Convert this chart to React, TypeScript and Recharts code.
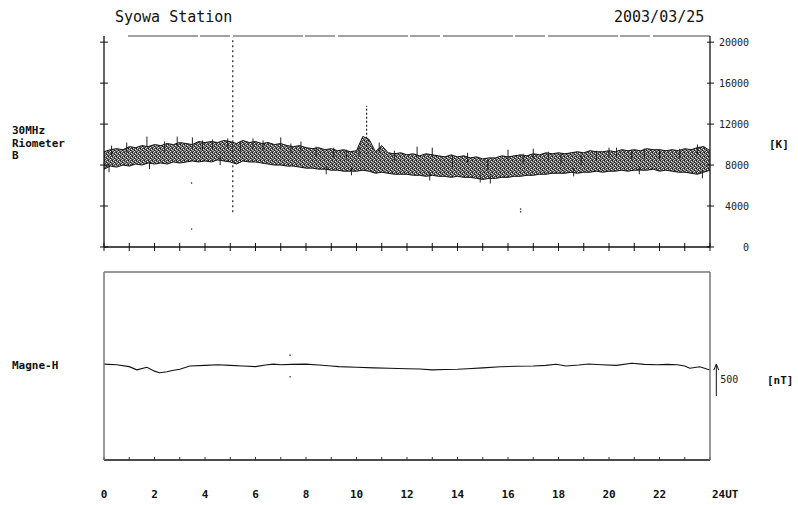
import React from "react";
import {
  ComposedChart,
  Area,
  Line,
  Scatter,
  XAxis,
  YAxis,
  ReferenceLine,
} from "recharts";

// riometer envelope, one sample every 15 min from 00 to 24 UT (K)
const rioHigh = [
  9300, 9500, 9600, 9500, 9800, 9700, 9900, 9800,
  10000, 9900, 10100, 10000, 10200, 10100, 10000, 10300,
  10200, 10300, 10200, 10400, 10300, 10100, 10400, 10200,
  10300, 10100, 10200, 10000, 10100, 9900, 9800, 9900,
  9700, 9600, 9700, 9500, 9600, 9400, 9500, 9300,
  9400, 10800, 10500, 9300, 9900, 9200, 9100, 9200,
  9000, 9100, 8900, 9100, 9000, 8900, 8800, 9000,
  8800, 8900, 8700, 8800, 8600, 8700, 8700, 8900,
  8800, 8900, 9000, 8900, 9100, 9000, 9200, 9100,
  9200, 9100, 9200, 9300, 9200, 9400, 9300, 9300,
  9400, 9300, 9500, 9400, 9500, 9400, 9600, 9500,
  9500, 9400, 9500, 9400, 9600, 9500, 9700, 9800,
  9400,
];
const rioLow = [
  7600, 7900, 7800, 8000, 7900, 8100, 8000, 8200,
  8100, 8200, 8100, 8300, 8200, 8300, 8400, 8300,
  8400, 8300, 8500, 8400, 8300, 8100, 8400, 8300,
  8300, 8200, 8100, 8000, 8000, 7900, 7900, 7800,
  7700, 7700, 7600, 7600, 7500, 7500, 7400, 7400,
  7400, 7500, 7400, 7200, 7300, 7200, 7100, 7100,
  7100, 7000, 7000, 6900, 7000, 6900, 6900, 6800,
  6900, 6800, 6800, 6700, 6600, 6700, 6700, 6800,
  6800, 6900, 6900, 7000, 7000, 7100, 7100, 7200,
  7200, 7200, 7300, 7200, 7300, 7300, 7400, 7300,
  7400, 7400, 7500, 7400, 7500, 7500, 7500, 7600,
  7400, 7500, 7400, 7300, 7300, 7200, 7100, 7300,
  7500,
];

// single noisy samples poking out of the band (K)
const rioPeaks = [
  { t: 0.3, v: 9900 }, { t: 0.9, v: 10200 }, { t: 1.7, v: 10780 }, { t: 2.4, v: 10300 },
  { t: 2.9, v: 10780 }, { t: 3.5, v: 10700 }, { t: 3.9, v: 10400 }, { t: 4.3, v: 10500 },
  { t: 4.9, v: 10600 }, { t: 5.4, v: 10300 }, { t: 5.9, v: 10600 }, { t: 6.3, v: 10400 },
  { t: 7.0, v: 10700 }, { t: 7.4, v: 10100 }, { t: 7.8, v: 10300 }, { t: 8.4, v: 9800 },
  { t: 9.1, v: 9700 }, { t: 9.6, v: 9500 }, { t: 10.1, v: 9800 }, { t: 10.9, v: 10200 },
  { t: 11.5, v: 9400 }, { t: 12.4, v: 9800 }, { t: 13.0, v: 9700 }, { t: 13.8, v: 8800 },
  { t: 14.4, v: 9200 }, { t: 15.2, v: 8500 }, { t: 16.0, v: 9500 }, { t: 16.6, v: 9100 },
  { t: 17.0, v: 9600 }, { t: 17.6, v: 9300 }, { t: 18.1, v: 9100 }, { t: 18.9, v: 9000 },
  { t: 19.5, v: 9400 }, { t: 20.0, v: 9700 }, { t: 20.3, v: 9700 }, { t: 20.9, v: 9500 },
  { t: 21.4, v: 9600 }, { t: 22.0, v: 9500 }, { t: 22.8, v: 9600 }, { t: 23.5, v: 10000 },
];
const rioDips = [
  { t: 0.2, v: 7300 }, { t: 1.8, v: 7600 }, { t: 4.6, v: 8000 }, { t: 8.8, v: 7100 },
  { t: 9.8, v: 7000 }, { t: 12.9, v: 6500 }, { t: 14.9, v: 6300 }, { t: 15.3, v: 6200 },
  { t: 18.6, v: 6900 }, { t: 21.2, v: 7100 }, { t: 23.7, v: 6700 },
];

// short bursts and stray samples
const spike1 = [
  { t: 5.1, v: 3400 },
  { t: 5.1, v: 20500 },
];
const spike2 = [
  { t: 10.4, v: 9000 },
  { t: 10.4, v: 13800 },
];
const rioDots = [
  { t: 3.47, v: 6240 },
  { t: 3.47, v: 1760 },
  { t: 16.5, v: 3430 },
  { t: 16.5, v: 3700 },
];

// Magne-H, relative nT
const magTimes = [
  0, 0.5, 1, 1.3, 1.7, 2, 2.2, 2.5, 2.7, 3, 3.4, 4, 4.5, 5, 5.5, 6, 6.4, 6.7,
  7, 7.4, 8, 8.5, 9, 9.3, 10, 10.7, 11.3, 12, 12.5, 13, 13.5, 14, 14.4, 15,
  15.7, 16.3, 17, 17.5, 17.9, 18.3, 18.8, 19.2, 19.7, 20.3, 20.9, 21.4, 21.9,
  22.3, 22.7, 23, 23.2, 23.6, 23.9, 24,
];
const magVals = [
  30, 20, -10, -60, -20, -80, -105, -90, -70, -50, 0, 10, 20, 10, 0, -10, 15,
  30, 20, 25, 30, 15, 0, -10, -20, -30, -35, -42, -48, -60, -55, -50, -42, -30,
  -11, -5, 0, 10, 27, 0, 15, 31, 20, 10, 42, 25, 20, 25, 20, 0, -35, -11, -52,
  -60,
];
const magDots = [
  { t: 7.37, v: 170 },
  { t: 7.37, v: -170 },
];

const hourTicks = [
  0, 1, 2, 3, 4, 5, 6, 7, 8, 9, 10, 11, 12, 13, 14, 15, 16, 17, 18, 19, 20, 21,
  22, 23, 24,
];
const labelTicks = [0, 2, 4, 6, 8, 10, 12, 14, 16, 18, 20, 22, 24];
const kTicks = [0, 4000, 8000, 12000, 16000, 20000];

const FONT = "'DejaVu Sans Mono', monospace";
const INK = "#111";
const K_MAX = 20600;
const NT = 1470;

const rioData = rioHigh.map((h, i) => ({ t: i * 0.25, band: [rioLow[i], h] }));
const magData = magTimes.map((t, i) => ({ t, v: magVals[i] }));

const noTick = () => <g />;

const KTick = (p: any) => (
  <text x={749} y={p.y + 4} textAnchor="end" fontFamily={FONT} fontSize={10} fill="#222">
    {p.payload.value}
  </text>
);

const HourTick = (p: any) => {
  const last = p.payload.value === 24;
  return (
    <text
      x={last ? p.x + 2 : p.x}
      y={498}
      textAnchor={last ? "start" : "middle"}
      fontFamily={FONT}
      fontSize={11}
      fontWeight="bold"
      fill={INK}
    >
      {last ? "24UT" : p.payload.value}
    </text>
  );
};

const Dot = (p: any) => <circle cx={p.cx} cy={p.cy} r={0.8} fill="#333" />;
const PeakTick = (p: any) => <line x1={p.cx} y1={p.cy} x2={p.cx} y2={p.cy + 10} stroke="#222" strokeWidth={1} />;
const DipTick = (p: any) => <line x1={p.cx} y1={p.cy} x2={p.cx} y2={p.cy - 8} stroke="#222" strokeWidth={1} />;

const ScaleArrow = (p: any) => {
  const top = Math.min(p.y1, p.y2);
  const bot = Math.max(p.y1, p.y2);
  return (
    <g>
      <line x1={p.x1} y1={top} x2={p.x1} y2={bot} stroke={INK} strokeWidth={1} />
      <path d={`M${p.x1 - 2.5},${top + 6} L${p.x1},${top} L${p.x1 + 2.5},${top + 6}`} fill="none" stroke={INK} />
      <text x={p.x1 + 4} y={(top + bot) / 2 + 3} fontFamily={FONT} fontSize={10} fill="#222">
        500
      </text>
    </g>
  );
};

function RiometerPanel() {
  return (
    <ComposedChart width={798} height={505} data={rioData} margin={{ top: 36, right: 0, bottom: 0, left: 0 }}>
      <defs>
        <pattern id="speck" width="4" height="4" patternUnits="userSpaceOnUse">
          <rect width="4" height="4" fill="#555" />
          <rect x="0" y="0" width="1" height="1" fill="#111" />
          <rect x="2" y="2" width="1" height="1" fill="#111" />
          <rect x="1" y="0" width="1" height="1" fill="#ccc" />
          <rect x="3" y="1" width="1" height="1" fill="#f2f2f2" />
          <rect x="0" y="2" width="1" height="1" fill="#aaa" />
          <rect x="2" y="3" width="1" height="1" fill="#e6e6e6" />
          <rect x="1" y="2" width="1" height="1" fill="#999" />
        </pattern>
      </defs>
      <XAxis type="number" dataKey="t" domain={[0, 24]} ticks={hourTicks} height={258} tick={noTick} tickSize={4} tickLine={{ stroke: INK }} axisLine={{ stroke: INK, strokeWidth: 1.3 }} allowDataOverflow />
      <XAxis xAxisId="in" type="number" dataKey="t" domain={[0, 24]} ticks={hourTicks} mirror tick={noTick} tickSize={4} tickLine={{ stroke: INK }} axisLine={false} allowDataOverflow />
      <YAxis type="number" domain={[0, K_MAX]} ticks={kTicks} width={104} tick={noTick} tickSize={4} tickLine={{ stroke: INK }} axisLine={{ stroke: INK, strokeWidth: 1.3 }} allowDataOverflow />
      <YAxis yAxisId="lin" type="number" domain={[0, K_MAX]} ticks={kTicks} mirror tick={noTick} tickSize={4} tickLine={{ stroke: INK }} axisLine={false} allowDataOverflow />
      <YAxis yAxisId="r" orientation="right" type="number" domain={[0, K_MAX]} ticks={kTicks} width={88} tick={KTick} tickSize={4} tickLine={{ stroke: INK }} axisLine={{ stroke: INK, strokeWidth: 1.3 }} allowDataOverflow />
      <YAxis yAxisId="rin" orientation="right" type="number" domain={[0, K_MAX]} ticks={kTicks} mirror tick={noTick} tickSize={3} tickLine={{ stroke: INK }} axisLine={false} allowDataOverflow />
      <ReferenceLine segment={[{ x: 0.95, y: K_MAX }, { x: 24, y: K_MAX }]} stroke="#444" strokeWidth={1.2} strokeDasharray="70 2 30 3" />
      <Area type="linear" dataKey="band" stroke={INK} strokeWidth={1} fill="url(#speck)" fillOpacity={1} isAnimationActive={false} dot={false} activeDot={false} />
      <Scatter data={rioPeaks} dataKey="v" shape={PeakTick} isAnimationActive={false} />
      <Scatter data={rioDips} dataKey="v" shape={DipTick} isAnimationActive={false} />
      <Line data={spike1} type="linear" dataKey="v" stroke="#222" strokeWidth={1.2} strokeDasharray="2 3" dot={false} activeDot={false} isAnimationActive={false} />
      <Line data={spike2} type="linear" dataKey="v" stroke="#222" strokeWidth={1.2} strokeDasharray="2 2" dot={false} activeDot={false} isAnimationActive={false} />
      <Scatter data={rioDots} dataKey="v" shape={Dot} isAnimationActive={false} />
    </ComposedChart>
  );
}

function MagnePanel() {
  return (
    <ComposedChart width={798} height={505} data={magData} margin={{ top: 272, right: 0, bottom: 0, left: 0 }}>
      <XAxis type="number" dataKey="t" domain={[0, 24]} ticks={labelTicks} height={45} tick={HourTick} tickSize={0} axisLine={false} allowDataOverflow />
      <XAxis xAxisId="in" type="number" dataKey="t" domain={[0, 24]} ticks={hourTicks} mirror tick={noTick} tickSize={3} tickLine={{ stroke: "#333" }} axisLine={false} allowDataOverflow />
      <YAxis type="number" domain={[-NT, NT]} width={104} tick={noTick} tickLine={false} axisLine={{ stroke: "#777", strokeWidth: 1.5 }} allowDataOverflow />
      <YAxis yAxisId="r" orientation="right" type="number" domain={[-NT, NT]} width={88} tick={noTick} tickLine={false} axisLine={{ stroke: "#777", strokeWidth: 1.5 }} />
      <ReferenceLine segment={[{ x: 0, y: NT }, { x: 24, y: NT }]} stroke="#777" strokeWidth={1.5} />
      <ReferenceLine segment={[{ x: 0, y: -NT }, { x: 24, y: -NT }]} stroke={INK} strokeWidth={1.3} />
      <ReferenceLine segment={[{ x: 24.25, y: -470 }, { x: 24.25, y: 30 }]} ifOverflow="visible" shape={ScaleArrow} />
      <Line type="linear" dataKey="v" stroke={INK} strokeWidth={1.1} dot={false} activeDot={false} isAnimationActive={false} />
      <Scatter data={magDots} dataKey="v" shape={Dot} isAnimationActive={false} />
    </ComposedChart>
  );
}

export default function App() {
  const txt = { fontFamily: FONT, fill: INK } as const;
  return (
    <div style={{ position: "absolute", left: 0, top: 0, width: 798, height: 505, background: "#fff" }}>
      <div style={{ position: "absolute", left: 0, top: 0 }}>
        <RiometerPanel />
      </div>
      <div style={{ position: "absolute", left: 0, top: 0 }}>
        <MagnePanel />
      </div>
      <svg width={798} height={505} style={{ position: "absolute", left: 0, top: 0, pointerEvents: "none" }}>
        <text x={115} y={22} fontSize={15} {...txt}>Syowa Station</text>
        <text x={614} y={22} fontSize={15} {...txt}>2003/03/25</text>
        <text x={12} y={134} fontSize={11} fontWeight="bold" {...txt}>30MHz</text>
        <text x={12} y={147} fontSize={11} fontWeight="bold" {...txt}>Riometer</text>
        <text x={12} y={159} fontSize={11} fontWeight="bold" {...txt}>B</text>
        <text x={769} y={148} fontSize={11} fontWeight="bold" {...txt}>[K]</text>
        <text x={12} y={369} fontSize={11} fontWeight="bold" {...txt}>Magne-H</text>
        <text x={767} y={384} fontSize={11} fontWeight="bold" {...txt}>[nT]</text>
      </svg>
    </div>
  );
}
